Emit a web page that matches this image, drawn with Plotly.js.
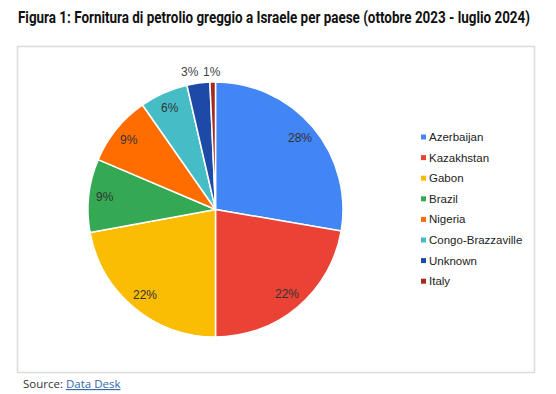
<!DOCTYPE html>
<html>
<head>
<meta charset="utf-8">
<script src="https://cdn.plot.ly/plotly-3.0.1.min.js"></script>
<style>
html,body{margin:0;padding:0;background:#fff;}
#chart{width:556px;height:394px;}
</style>
</head>
<body>
<div id="chart"></div>
<script>
// Data
const countries = ["Azerbaijan", "Kazakhstan", "Gabon", "Brazil", "Nigeria", "Congo-Brazzaville", "Unknown", "Italy"];
const shares = [27.7, 22.3, 22.1, 9.3, 8.9, 6.1, 2.9, 0.7];
const sliceColors = ["#4285F4", "#EA4335", "#FBBC04", "#34A853", "#FF6D01", "#46BDC6", "#1C4AA6", "#A32A1E"];
const labelPlacement = ["inside", "inside", "inside", "inside", "inside", "inside", "outside", "outside"];
const titleText = "Figura 1: Fornitura di petrolio greggio a Israele per paese (ottobre 2023 - luglio 2024)";
const sourceLabel = "Source: ";
const sourceLink = "Data Desk";

const W = 556, H = 394;
const px = v => v / W;
const py = v => 1 - v / H;

// pie geometry (pixels)
const CX = 215.5, CY = 209.5, R = 127.5;

const trace = {
  type: "pie",
  labels: countries,
  values: shares,
  sort: false,
  direction: "clockwise",
  rotation: 0,
  marker: { colors: sliceColors, line: { color: "#ffffff", width: 1.5 } },
  textinfo: "none",
  hoverinfo: "label+percent",
  showlegend: false,
  domain: { x: [px(CX - R), px(CX + R)], y: [py(CY + R), py(CY - R)] }
};

const labelFont = { family: "Liberation Sans, Arial, sans-serif", size: 12, color: "#333333" };
const shapes = [{
  type: "rect", xref: "paper", yref: "paper",
  x0: px(17.5), x1: px(534.5), y0: py(372.5), y1: py(46.5),
  line: { color: "#dcdcdc", width: 1.5 }, fillcolor: "rgba(0,0,0,0)"
}];
const annotations = [];

// slice percentage labels, positioned from the data
const total = shares.reduce((a, b) => a + b, 0);
let cum = 0;
const outside = [];
shares.forEach((v, i) => {
  const frac = v / total;
  const mid = (cum + frac / 2) * 2 * Math.PI;
  cum += frac;
  const txt = Math.round(frac * 100) + "%";
  if (labelPlacement[i] === "inside") {
    const d = R * 0.87;
    annotations.push({
      xref: "paper", yref: "paper",
      x: px(CX + d * Math.sin(mid)), y: py(CY - d * Math.cos(mid)),
      xanchor: "center", yanchor: "middle", showarrow: false,
      text: txt, font: labelFont
    });
  } else {
    outside.push({ x: CX + (R + 10) * Math.sin(mid), txt: txt });
  }
});
// lay out outside labels in a row above the pie, pushing left to avoid overlap
const labW = 22;
for (let k = outside.length - 2; k >= 0; k--) {
  if (outside[k].x > outside[k + 1].x - labW) outside[k].x = outside[k + 1].x - labW;
}
outside.forEach(o => {
  annotations.push({
    xref: "paper", yref: "paper", x: px(o.x), y: py(CY - R - 10),
    xanchor: "center", yanchor: "middle", showarrow: false,
    text: o.txt, font: { family: labelFont.family, size: 12, color: "#444444" }
  });
});

// legend
countries.forEach((c, i) => {
  const yc = 137 + i * 20.6;
  shapes.push({
    type: "rect", xref: "paper", yref: "paper",
    x0: px(421), x1: px(426), y0: py(yc + 2.5), y1: py(yc - 2.5),
    line: { width: 0 }, fillcolor: sliceColors[i]
  });
  annotations.push({
    xref: "paper", yref: "paper", x: px(427), y: py(yc),
    xanchor: "left", yanchor: "middle", showarrow: false,
    text: c, font: { family: "Liberation Sans, Arial, sans-serif", size: 11.5, color: "#222222" }
  });
});
annotations.push({
  xref: "paper", yref: "paper", x: px(21), y: py(383),
  xanchor: "left", yanchor: "middle", showarrow: false,
  text: sourceLabel + '<span style="color:#3467b0"><u>' + sourceLink + '</u></span>',
  font: { family: "Open Sans, sans-serif", size: 11.5, color: "#333333" }
});

const layout = {
  width: W, height: H,
  margin: { l: 0, r: 0, t: 0, b: 0 },
  paper_bgcolor: "#ffffff",
  title: {
    text: titleText,
    xref: "container", yref: "container",
    x: px(18), xanchor: "left", y: py(17), yanchor: "middle",
    font: { family: "Roboto, sans-serif", size: 17, weight: 700, color: "#111111" }
  },
  shapes: shapes,
  annotations: annotations
};

Plotly.newPlot("chart", [trace], layout, { displayModeBar: false, staticPlot: true }).then(() => {
  const t = document.querySelector(".gtitle");
  if (t) {
    t.setAttribute("textLength", "512");
    t.setAttribute("lengthAdjust", "spacingAndGlyphs");
  }
});
</script>
</body>
</html>
